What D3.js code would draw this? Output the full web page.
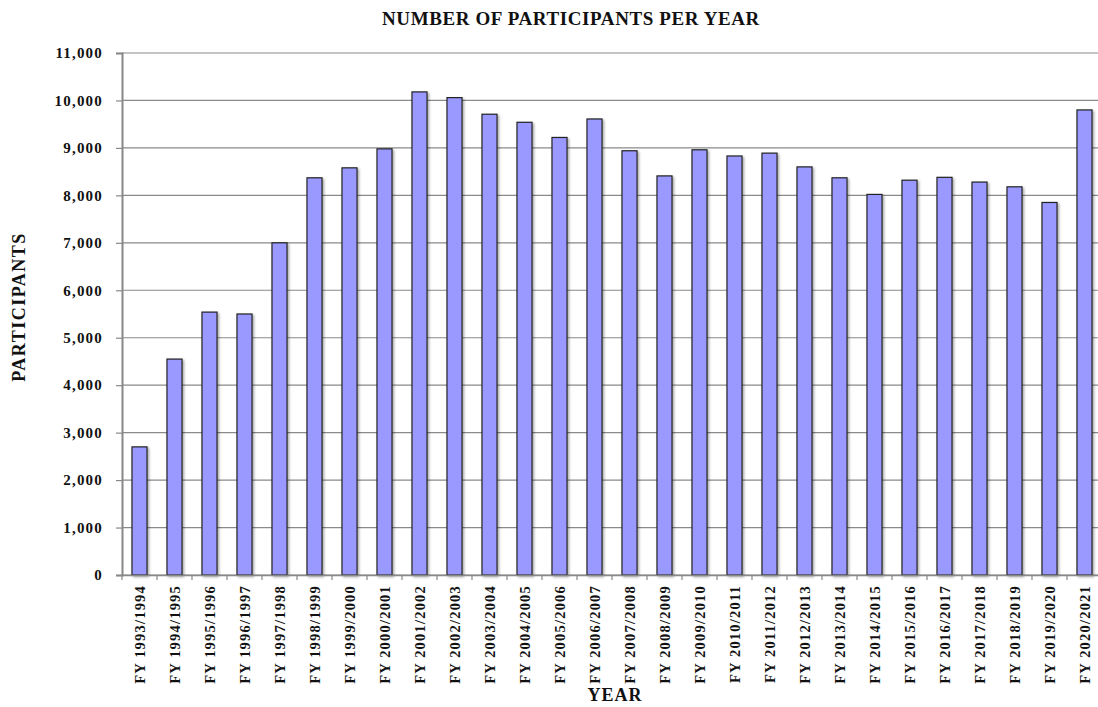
<!DOCTYPE html>
<html>
<head>
<meta charset="utf-8">
<script src="https://cdn.jsdelivr.net/npm/d3@7"></script>
<style>
  body { margin: 0; background: #fff; }
  text { font-family: "Liberation Serif", "Times New Roman", serif; font-weight: bold; fill: #111; }
</style>
</head>
<body>
<div id="viz"></div>
<script>
const years = [
  "FY 1993/1994", "FY 1994/1995", "FY 1995/1996", "FY 1996/1997", "FY 1997/1998",
  "FY 1998/1999", "FY 1999/2000", "FY 2000/2001", "FY 2001/2002", "FY 2002/2003",
  "FY 2003/2004", "FY 2004/2005", "FY 2005/2006", "FY 2006/2007", "FY 2007/2008",
  "FY 2008/2009", "FY 2009/2010", "FY 2010/2011", "FY 2011/2012", "FY 2012/2013",
  "FY 2013/2014", "FY 2014/2015", "FY 2015/2016", "FY 2016/2017", "FY 2017/2018",
  "FY 2018/2019", "FY 2019/2020", "FY 2020/2021"
];
const participants = [
  2700, 4550, 5540, 5500, 7000,
  8370, 8580, 8980, 10180, 10060,
  9710, 9540, 9220, 9610, 8940,
  8410, 8960, 8830, 8890, 8600,
  8370, 8020, 8320, 8380, 8280,
  8180, 7850, 9800
];
const yTicks = [0, 1000, 2000, 3000, 4000, 5000, 6000, 7000, 8000, 9000, 10000, 11000];

const data = years.map((y, i) => ({year: y, value: participants[i]}));

const W = 1098, H = 707;
const margin = {top: 53, right: -4, bottom: 132, left: 122};
const width = W - margin.left - margin.right;
const height = H - margin.top - margin.bottom;

const svg = d3.select("#viz").append("svg")
  .attr("width", W)
  .attr("height", H);

const defs = svg.append("defs");
const f = defs.append("filter").attr("id", "shadow")
  .attr("x", "-30%").attr("y", "-10%").attr("width", "160%").attr("height", "120%");
f.append("feDropShadow").attr("dx", 1.5).attr("dy", 1.5).attr("stdDeviation", 0.8)
  .attr("flood-color", "#000").attr("flood-opacity", 0.35);

const g = svg.append("g").attr("transform", `translate(${margin.left},${margin.top})`);

const x = d3.scaleBand()
  .domain(years)
  .range([0, width])
  .paddingInner(0.57)
  .paddingOuter(0.285);

const y = d3.scaleLinear()
  .domain([0, 11000])
  .range([height, 0]);

// gridlines
g.append("g")
  .selectAll("line")
  .data(yTicks)
  .enter()
  .append("line")
  .attr("x1", 0)
  .attr("x2", width)
  .attr("y1", d => y(d))
  .attr("y2", d => y(d))
  .attr("stroke", "#8a8a8a")
  .attr("stroke-width", 1.2);

// bars
g.selectAll("rect.bar")
  .data(data)
  .enter()
  .append("rect")
  .attr("class", "bar")
  .attr("x", d => x(d.year))
  .attr("y", d => y(d.value))
  .attr("width", x.bandwidth())
  .attr("height", d => height - y(d.value))
  .attr("fill", "#9999ff")
  .attr("stroke", "#222")
  .attr("stroke-width", 1.2)
  .attr("filter", "url(#shadow)");

// y axis
const yAxis = g.append("g")
  .call(d3.axisLeft(y).tickValues(yTicks).tickFormat(d3.format(",")).tickSize(6).tickPadding(13));
yAxis.select(".domain").attr("stroke", "#888").attr("stroke-width", 2);
yAxis.selectAll(".tick line").attr("stroke", "#888").attr("stroke-width", 1.2);
yAxis.selectAll(".tick text")
  .attr("font-size", 15)
  .style("font-family", "Liberation Serif, serif")
  .style("letter-spacing", "1.2px")
  .attr("font-weight", "bold")
  .attr("fill", "#111");

// x axis
const xAxis = g.append("g")
  .attr("transform", `translate(0,${height})`)
  .call(d3.axisBottom(x).tickSize(0).tickPadding(0));
xAxis.select(".domain").attr("stroke", "#888").attr("stroke-width", 1.5);
xAxis.selectAll(".tick text")
  .attr("transform", "rotate(-90)")
  .attr("text-anchor", "end")
  .attr("x", -10)
  .attr("y", 0)
  .attr("dy", "0.35em")
  .attr("font-size", 14.5)
  .style("font-family", "Liberation Serif, serif")
  .style("letter-spacing", "1.2px")
  .attr("font-weight", "bold")
  .attr("fill", "#111");

// small ticks between categories
g.append("g")
  .selectAll("line")
  .data(years)
  .enter()
  .append("line")
  .attr("x1", d => x(d) - x.step() * x.paddingInner() / 2)
  .attr("x2", d => x(d) - x.step() * x.paddingInner() / 2)
  .attr("y1", height)
  .attr("y2", height + 5)
  .attr("stroke", "#888")
  .attr("stroke-width", 1.2);

// titles
svg.append("text")
  .attr("x", 571)
  .attr("y", 25)
  .attr("text-anchor", "middle")
  .attr("font-size", 19)
  .style("letter-spacing", "0.6px")
  .text("NUMBER OF PARTICIPANTS  PER YEAR");

svg.append("text")
  .attr("x", 615)
  .attr("y", 701)
  .attr("text-anchor", "middle")
  .attr("font-size", 18)
  .style("letter-spacing", "1px")
  .text("YEAR");

svg.append("text")
  .attr("transform", `translate(25,307) rotate(-90)`)
  .attr("text-anchor", "middle")
  .attr("font-size", 18)
  .style("letter-spacing", "1.5px")
  .text("PARTICIPANTS");
</script>
</body>
</html>
